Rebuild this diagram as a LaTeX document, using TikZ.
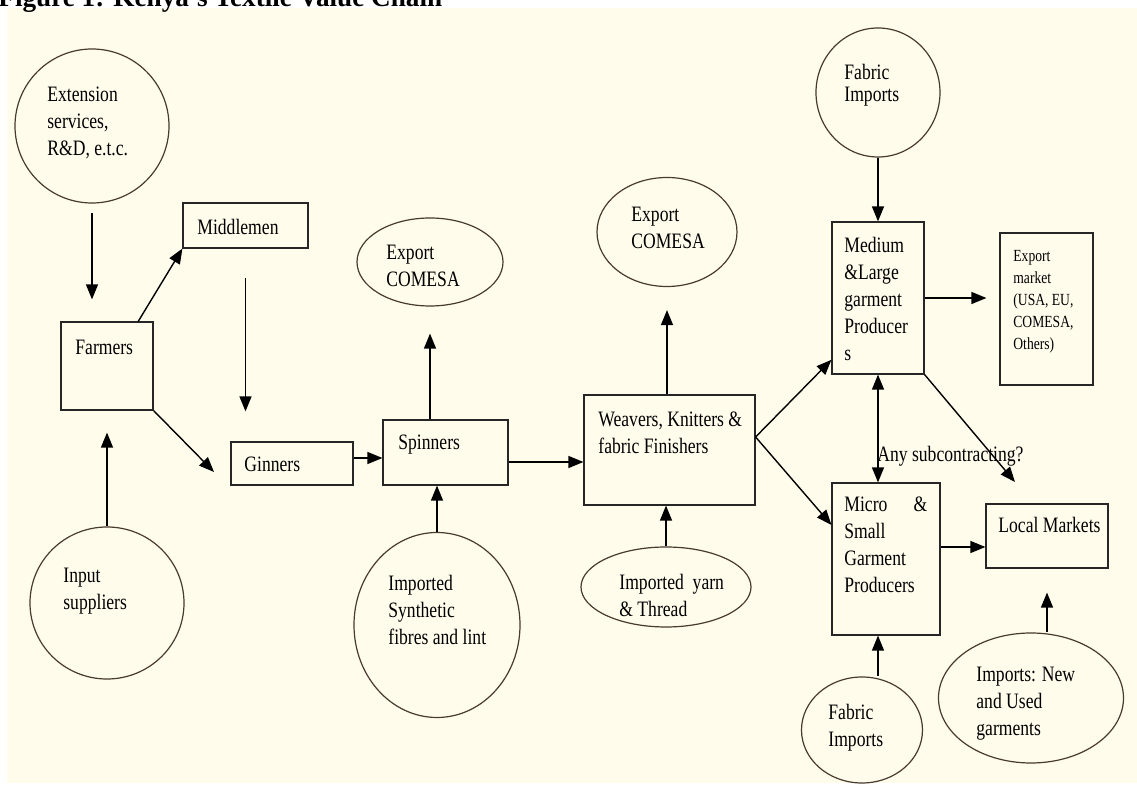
\documentclass[tikz,border=0pt]{standalone}
\usepackage{fontspec}
\setmainfont{Liberation Serif}
\newfontfamily\chartfont[FakeStretch=0.8]{Liberation Serif}
\usepackage{xcolor}
\usepackage{tikz}
\usetikzlibrary{positioning,arrows.meta,shapes.geometric,calc}
\definecolor{cream}{RGB}{255,252,236}
\definecolor{ringc}{RGB}{72,58,44}
\tikzset{
  box/.style   = {rectangle, draw=black!85, line width=0.6pt, inner sep=0pt},
  blob/.style  = {ellipse, draw=ringc, line width=0.6pt, inner sep=0pt},
  txt/.style   = {anchor=base west, inner sep=0pt, align=left,
                  font=\chartfont\fontsize{11}{13.5}\selectfont},
  smalltxt/.style = {txt, font=\chartfont\fontsize{8.5}{11}\selectfont},
  arr/.style   = {-{Triangle[length=7.5pt,width=6pt]}, line width=0.7pt},
  arrb/.style  = {{Triangle[length=7.5pt,width=6pt]}-{Triangle[length=7.5pt,width=6pt]}, line width=0.7pt},
}

\begin{document}
\begin{tikzpicture}[x=0.5pt, y=-0.5pt]
  \useasboundingbox (0,0) rectangle (1137,785);
  \fill[cream] (7,8) rectangle (1137,783);
  \node[anchor=base west, inner sep=0pt, font=\bfseries\fontsize{13.6}{16}\selectfont] (title) at (-2,7)
    {Figure 1: Kenya's Textile Value Chain};

  % shapes
  \node[blob, minimum width=77pt, minimum height=77pt] (ext) at (92,126) {};
  \node[blob, minimum width=77pt, minimum height=76pt] (input) at (107,603) {};
  \node[box, minimum width=46pt, minimum height=44pt] (farmers) at (107,366) {};
  \node[box, minimum width=62.5pt, minimum height=22.5pt] (middlemen) at (245.5,225.5) {};
  \node[box, minimum width=61pt, minimum height=21.5pt] (ginners) at (292,463.5) {};
  \node[box, minimum width=62.5pt, minimum height=32.5pt] (spinners) at (445.5,452.5) {};
  \node[blob, minimum width=73pt, minimum height=44pt] (export1) at (430,262) {};
  \node[blob, minimum width=83pt, minimum height=92.5pt] (synth) at (437,625) {};
  \node[box, minimum width=85.5pt, minimum height=55pt] (weavers) at (669.5,450) {};
  \node[blob, minimum width=70pt, minimum height=54.5pt] (export2) at (667,232) {};
  \node[blob, minimum width=85pt, minimum height=40pt] (yarn) at (666,587) {};
  \node[blob, minimum width=62pt, minimum height=64.5pt] (fabtop) at (878,92.5) {};
  \node[box, minimum width=46pt, minimum height=76pt] (medium) at (878,298) {};
  \node[box, minimum width=46.5pt, minimum height=76pt] (exportmkt) at (1046.5,309) {};
  \node[box, minimum width=54pt, minimum height=76pt] (micro) at (886,559) {};
  \node[box, minimum width=61pt, minimum height=32pt] (local) at (1047,536) {};
  \node[blob, minimum width=60.5pt, minimum height=53pt] (fabbot) at (862,730) {};
  \node[blob, minimum width=92.5pt, minimum height=65pt] (importsnew) at (1031,698) {};

  % texts (placed at the baseline of their last line)
  \node[txt] (ext-t) at (47,156) {Extension\\services,\\R\&D, e.t.c.};
  \node[txt] (input-t) at (63,610) {Input\\suppliers};
  \node[txt] (farmers-t) at (75,355) {Farmers};
  \node[txt] (middlemen-t) at (197,235) {Middlemen};
  \node[txt] (ginners-t) at (244,472) {Ginners};
  \node[txt] (spinners-t) at (398,450) {Spinners};
  \node[txt] (export1-t) at (386,287) {Export\\COMESA};
  \node[txt] (synth-t) at (388,645) {Imported\\Synthetic\\fibres and lint};
  \node[txt] (weavers-t) at (598,454) {Weavers, Knitters \&\\fabric Finishers};
  \node[txt] (export2-t) at (631,249) {Export\\COMESA};
  \node[txt] (yarn-t) at (619,617) {Imported\ \ yarn\\\& Thread};
  \node[txt] (fabtop-t) at (844,102) {Fabric\\[-2.5pt]Imports};
  \node[txt] (medium-t) at (844,361) {Medium\\\&Large\\garment\\Producer\\s};
  \node[smalltxt] (exportmkt-t) at (1013,350) {Export\\market\\(USA, EU,\\COMESA,\\Others)};
  \node[txt] (micro-t) at (844,593) {\makebox[41.5pt][s]{Micro\hfill\&}\\Small\\Garment\\Producers};
  \node[txt] (local-t) at (998,533) {Local Markets};
  \node[txt] (sub-t) at (877,462) {Any subcontracting?};
  \node[txt] (fabbot-t) at (828,747) {Fabric\\Imports};
  \node[txt] (importsnew-t) at (976,736) {Imports: New\\and Used\\garments};

  \coordinate (gin-in) at (214,472);
  \coordinate (loc-in) at (1015,482);

  % connectors
  \draw[arr, shorten <=4.5pt, shorten >=11pt] (ext.south) -- (ext.south |- farmers.north);
  \draw[arr] (farmers.55) -- (middlemen.south west);
  \draw[arr, shorten <=14.5pt, shorten >=15pt] (middlemen.south) -- (middlemen.south |- ginners.north);
  \draw[arr] (farmers.south east) -- (gin-in);
  \draw[arr, shorten >=11pt] (input.north) -- (input.north |- farmers.south);
  \draw[arr] ([yshift=2.75pt]ginners.east) -- ([yshift=2.75pt]ginners.east -| spinners.west);
  \draw[arr, shorten >=13.5pt] (export1.south |- spinners.north) -- (export1.south);
  \draw[arr] (synth.north) -- (synth.north |- spinners.south);
  \draw[arr] ([yshift=-4.75pt]spinners.east) -- ([yshift=-4.75pt]spinners.east -| weavers.west);
  \draw[arr, shorten >=11.5pt] (export2.south |- weavers.north) -- (export2.south);
  \draw[arr] (yarn.north) -- (yarn.north |- weavers.south);
  \draw[arr] ([yshift=6.5pt]weavers.east) -- (medium.233);
  \draw[arr] ([yshift=6.5pt]weavers.east) -- (micro.148);
  \draw[arr] (fabtop.south) -- (medium.north);
  \draw[arr, shorten >=6.5pt] (medium.east) -- (medium.east -| exportmkt.west);
  \draw[arrb] (medium.south) -- (medium.south |- micro.north);
  \draw[arr] (medium.south east) -- (loc-in);
  \draw[arr] ([yshift=6pt]micro.east) -- ([yshift=6pt]micro.east -| local.west);
  \draw[arr, shorten >=12pt] (local.south |- importsnew.north) -- (local.south);
  \draw[arr] (medium.south |- fabbot.north) -- (medium.south |- micro.south);
\end{tikzpicture}
\end{document}
